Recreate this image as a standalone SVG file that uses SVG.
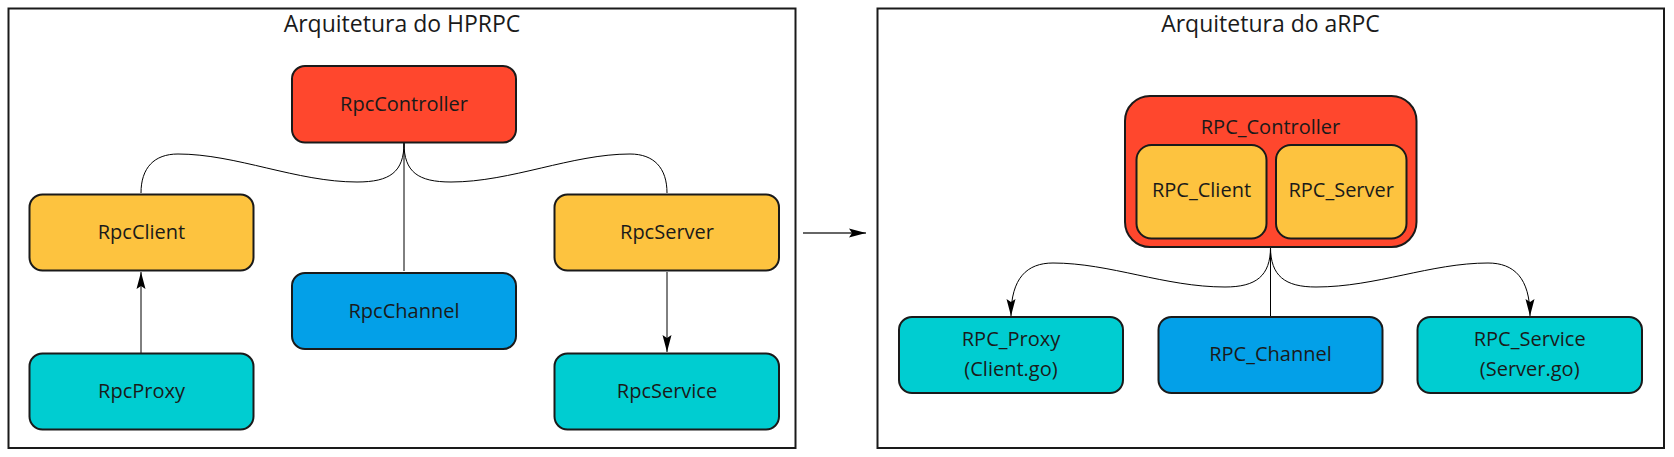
<svg xmlns="http://www.w3.org/2000/svg" width="1674" height="457" viewBox="0 0 1674 457">
<style>
  .frame{fill:#ffffff;stroke:#1a1a1a;stroke-width:2}
  .node{stroke:#1a1a1a;stroke-width:2}
  .red{fill:#FF472D}
  .yellow{fill:#FDC33F}
  .teal{fill:#00CDD1}
  .blue{fill:#03A0E8}
  .lbl{font-family:"Open Sans","Noto Sans","Liberation Sans",sans-serif;font-size:20px;fill:#1a1a1a;text-anchor:middle}
  .title{font-family:"Open Sans","Noto Sans","Liberation Sans",sans-serif;font-size:23px;fill:#1a1a1a;text-anchor:middle}
  .edge{fill:none;stroke:#000000;stroke-width:1}
</style>
<defs>
  <marker id="arr" markerUnits="userSpaceOnUse" markerWidth="20" markerHeight="12" refX="17" refY="5" orient="auto">
    <path d="M0,0.5 L17,5 L0,9.5 L3,5 Z" fill="#000000"/>
  </marker>
</defs>
<rect width="1674" height="457" fill="#ffffff"/>

<g id="frame-hprpc">
  <rect class="frame" x="8.5" y="8.5" width="787" height="439.5"/>
  <text class="title" x="402" y="32">Arquitetura do HPRPC</text>
</g>
<g id="frame-arpc">
  <rect class="frame" x="877.5" y="8.5" width="786.5" height="439.5"/>
  <text class="title" x="1270.5" y="32">Arquitetura do aRPC</text>
</g>

<g id="connectors">
  <path class="edge" d="M404,143 C404,172 390,182 357,182 C297,182 236,154 178,154 C154,154 141,168 141,193"/>
  <path class="edge" d="M404,143 C404,172 418,182 451,182 C511,182 572,154 630,154 C654,154 667,168 667,193"/>
  <path class="edge" d="M404,143 L404,271"/>
  <path class="edge" d="M141,353 L141,272" marker-end="url(#arr)"/>
  <path class="edge" d="M667,272 L667,352" marker-end="url(#arr)"/>
  <path d="M803,233 L866,233" fill="none" stroke="#333333" stroke-width="1.3" marker-end="url(#arr)"/>
  <path class="edge" d="M1270.5,247 C1270.5,276 1256,287 1225,287 C1165,287 1110,263 1053,263 C1027,263 1011,278 1011,316" marker-end="url(#arr)"/>
  <path class="edge" d="M1270.5,247 C1270.5,276 1285,287 1316,287 C1376,287 1431,263 1488,263 C1514,263 1530,278 1530,316" marker-end="url(#arr)"/>
  <path class="edge" d="M1270.5,247 L1270.5,317"/>
</g>

<g id="RpcController">
  <rect class="node red" x="292" y="66" width="224" height="76.5" rx="13"/>
  <text class="lbl" x="404" y="110.5">RpcController</text>
</g>
<g id="RpcClient">
  <rect class="node yellow" x="29.5" y="194.5" width="224" height="76" rx="13"/>
  <text class="lbl" x="141.5" y="239">RpcClient</text>
</g>
<g id="RpcServer">
  <rect class="node yellow" x="554.5" y="194.5" width="224.5" height="76" rx="13"/>
  <text class="lbl" x="667" y="239">RpcServer</text>
</g>
<g id="RpcChannel">
  <rect class="node blue" x="292" y="273" width="224" height="76" rx="13"/>
  <text class="lbl" x="404" y="317.5">RpcChannel</text>
</g>
<g id="RpcProxy">
  <rect class="node teal" x="29.5" y="353.5" width="224" height="76" rx="13"/>
  <text class="lbl" x="141.5" y="398">RpcProxy</text>
</g>
<g id="RpcService">
  <rect class="node teal" x="554.5" y="353.5" width="224.5" height="76" rx="13"/>
  <text class="lbl" x="667" y="398">RpcService</text>
</g>

<g id="RPC_Controller">
  <rect class="node red" x="1125" y="96" width="291.5" height="151" rx="25"/>
  <text class="lbl" x="1270.5" y="133.5">RPC_Controller</text>
</g>
<g id="RPC_Client">
  <rect class="node yellow" x="1136.5" y="145" width="130" height="93.5" rx="15"/>
  <text class="lbl" x="1201.5" y="197">RPC_Client</text>
</g>
<g id="RPC_Server">
  <rect class="node yellow" x="1276" y="145" width="130.5" height="93.5" rx="15"/>
  <text class="lbl" x="1341.2" y="197">RPC_Server</text>
</g>
<g id="RPC_Proxy">
  <rect class="node teal" x="899" y="317" width="224" height="76" rx="13"/>
  <text class="lbl" x="1011" y="346">RPC_Proxy</text>
  <text class="lbl" x="1011" y="376">(Client.go)</text>
</g>
<g id="RPC_Channel">
  <rect class="node blue" x="1158.5" y="317" width="224" height="76" rx="13"/>
  <text class="lbl" x="1270.5" y="360.5">RPC_Channel</text>
</g>
<g id="RPC_Service">
  <rect class="node teal" x="1417.5" y="317" width="224.5" height="76" rx="13"/>
  <text class="lbl" x="1529.7" y="346">RPC_Service</text>
  <text class="lbl" x="1529.7" y="376">(Server.go)</text>
</g>
</svg>
